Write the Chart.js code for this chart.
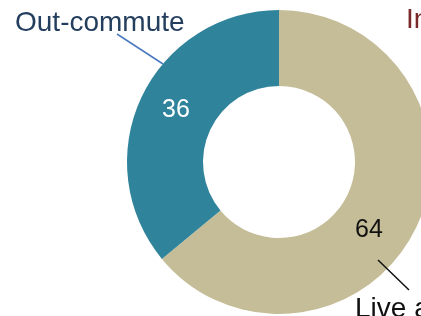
<!DOCTYPE html>
<html>
<head>
<meta charset="utf-8">
<script src="https://cdn.jsdelivr.net/npm/chart.js@4/dist/chart.umd.min.js"></script>
<style>
  html, body { margin: 0; padding: 0; background: #fff; overflow: hidden; }
  #wrap { position: relative; width: 421px; height: 316px; overflow: hidden; }
  #chart { position: absolute; left: 0; top: 0; }
</style>
</head>
<body>
<div id="wrap"><canvas id="chart" width="460" height="340"></canvas></div>
<script>
/* ===== DATA ===== */
const categories = ['Live and work', 'Out-commute'];
const values = [64, 36];
const sliceColors = ['#c5bd98', '#2f839b'];

/* ===== LABELS (drawn on top) ===== */
const FONT = 'Liberation Sans, Arial, sans-serif';

const calloutPlugin = {
  id: 'callouts',
  afterDraw(chart) {
    const ctx = chart.ctx;
    ctx.save();

    // value labels
    ctx.textAlign = 'center';
    ctx.textBaseline = 'middle';
    ctx.font = '25px ' + FONT;
    ctx.fillStyle = '#ffffff';
    ctx.fillText(String(values[1]), 176, 110);
    ctx.fillStyle = '#111111';
    ctx.fillText(String(values[0]), 369, 230);

    // leader lines
    ctx.lineWidth = 1.5;
    ctx.strokeStyle = '#4a78c0';
    ctx.beginPath(); ctx.moveTo(117, 34); ctx.lineTo(163, 64); ctx.stroke();
    ctx.strokeStyle = '#111111';
    ctx.beginPath(); ctx.moveTo(378, 260); ctx.lineTo(409, 290); ctx.stroke();

    // category names
    ctx.textAlign = 'left';
    ctx.textBaseline = 'alphabetic';
    ctx.font = '28px ' + FONT;
    ctx.fillStyle = '#243e5e';
    ctx.fillText(categories[1], 15, 31);
    ctx.fillStyle = '#111111';
    ctx.fillText(categories[0], 355, 317);
    ctx.fillStyle = '#7a2a2a';
    ctx.fillText('In-commute', 406, 28);

    ctx.restore();
  }
};

new Chart(document.getElementById('chart'), {
  type: 'doughnut',
  data: {
    labels: categories,
    datasets: [{
      data: values,
      backgroundColor: sliceColors,
      borderWidth: 0
    }]
  },
  options: {
    responsive: false,
    animation: false,
    cutout: '50%',
    layout: { padding: { left: 127, top: 10, right: 29, bottom: 26 } },
    plugins: { legend: { display: false }, tooltip: { enabled: false } }
  },
  plugins: [calloutPlugin]
});
</script>
</body>
</html>
